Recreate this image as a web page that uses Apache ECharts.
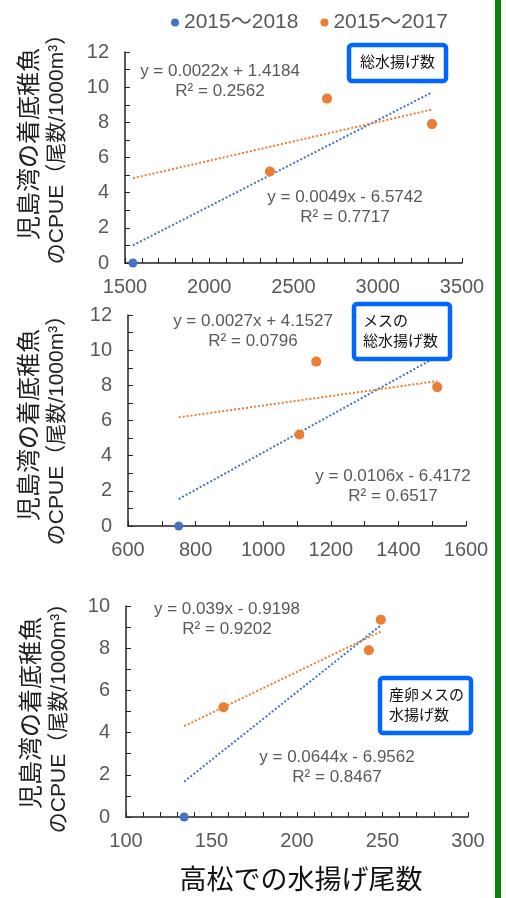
<!DOCTYPE html>
<html>
<head>
<meta charset="utf-8">
<script src="https://cdn.jsdelivr.net/npm/echarts@6/dist/echarts.min.js"></script>
<style>
  html, body { margin: 0; padding: 0; background: #fff; }
  #chart { width: 506px; height: 898px; }
</style>
</head>
<body>
<div id="chart"></div>
<script>
// x: 高松での水揚げ尾数 (3 panels), y: 児島湾のCPUE
const totalCatch = [1547, 2360, 2699, 3322];
const femaleCatch = [750, 1107, 1157, 1515];
const spawnCatch = [134, 157, 249, 242];
const cpue = [0, 5.2, 9.35, 7.9];

// [slope, intercept, R²]
const trend2018 = [[0.0049, -6.5742, 0.7717], [0.0106, -6.4172, 0.6517], [0.0644, -6.9562, 0.8467]];
const trend2017 = [[0.0022, 1.4184, 0.2562], [0.0027, 4.1527, 0.0796], [0.039, -0.9198, 0.9202]];

const panelX = [totalCatch, femaleCatch, spawnCatch];
const xMin = [1500, 600, 100];
const xMax = [3500, 1600, 300];
const xInterval = [500, 200, 50];
const xMinorSplit = [5, 2, 5];
const yMax = [12, 12, 10];
const boxText = ['総水揚げ数', 'メスの\n総水揚げ数', '産卵メスの\n水揚げ数'];

const NAME18 = '2015～2018';
const NAME17 = '2015～2017';
const BLUE = '#4472C4';
const ORANGE = '#ED7D31';
const GRAY = '#595959';
const FONT = '"Liberation Sans", "Noto Sans CJK JP", sans-serif';

const grids = [
  { left: 125, top: 52, width: 337, height: 211 },
  { left: 128, top: 315, width: 338, height: 211 },
  { left: 126, top: 606, width: 342, height: 211 }
];

// layout of the annotations
const eqPos17 = [[220, 81], [253, 331], [227, 619]];
const eqPos18 = [[345, 207], [393, 486], [337, 767]];
const boxRect = [[349, 45, 97, 36], [354, 304, 96, 55], [380, 678, 91, 55]];
const namePos = [[44, 144], [44, 425], [46, 713]];

function eqText(t) {
  const sign = t[1] < 0 ? '-' : '+';
  return 'y = ' + t[0] + 'x ' + sign + ' ' + Math.abs(t[1]) + '\nR² = ' + t[2];
}

function trendLine(xs, t) {
  const lo = Math.min(...xs), hi = Math.max(...xs);
  return [[lo, t[0] * lo + t[1]], [hi, t[0] * hi + t[1]]];
}

const axisLine = { lineStyle: { color: '#222', width: 1.5 } };

const xAxis = grids.map((g, i) => ({
  type: 'value', gridIndex: i,
  min: xMin[i], max: xMax[i], interval: xInterval[i],
  axisLine: axisLine,
  axisTick: { inside: true, length: 5, lineStyle: { color: '#222' } },
  minorTick: { show: true, splitNumber: xMinorSplit[i], length: 5, lineStyle: { color: '#222' } },
  splitLine: { show: false },
  axisLabel: { color: GRAY, fontSize: 20, margin: 14, fontFamily: FONT, formatter: v => String(v) }
}));

const yAxis = grids.map((g, i) => ({
  type: 'value', gridIndex: i,
  min: 0, max: yMax[i], interval: 2,
  axisLine: { show: true, lineStyle: { color: '#222', width: 1.5 } },
  axisTick: { show: true, inside: true, length: 5, lineStyle: { color: '#222' } },
  minorTick: { show: true, splitNumber: 2, length: 5, lineStyle: { color: '#222' } },
  splitLine: { show: false },
  axisLabel: { color: GRAY, fontSize: 20, margin: 16, fontFamily: FONT }
}));

const series = [];
panelX.forEach((xs, i) => {
  series.push({
    name: NAME18, type: 'scatter', xAxisIndex: i, yAxisIndex: i,
    symbolSize: 9, itemStyle: { color: BLUE, opacity: 1 }, z: 4,
    data: xs.map((x, k) => [x, cpue[k]])
  });
  series.push({
    name: NAME17, type: 'scatter', xAxisIndex: i, yAxisIndex: i,
    symbolSize: 10, itemStyle: { color: ORANGE, opacity: 1 }, z: 5,
    data: xs.slice(1).map((x, k) => [x, cpue[k + 1]])
  });
  series.push({
    name: NAME18, type: 'line', xAxisIndex: i, yAxisIndex: i,
    showSymbol: false, silent: true, z: 2, color: BLUE,
    lineStyle: { color: BLUE, width: 2, type: [2, 2] },
    data: trendLine(xs, trend2018[i])
  });
  series.push({
    name: NAME17, type: 'line', xAxisIndex: i, yAxisIndex: i,
    showSymbol: false, silent: true, z: 2, color: ORANGE,
    lineStyle: { color: ORANGE, width: 2, type: [2, 2] },
    data: trendLine(xs, trend2017[i])
  });
});

const graphic = [
  { type: 'rect', shape: { x: 495, y: 0, width: 6, height: 898 }, style: { fill: '#078407' } },
  {
    type: 'text', x: 301, y: 882,
    style: { text: '高松での水揚げ尾数', font: '27px ' + FONT, fill: '#111', align: 'center', verticalAlign: 'middle' }
  }
];
for (let i = 0; i < 3; i++) {
  graphic.push({
    type: 'text', x: namePos[i][0], y: namePos[i][1], rotation: Math.PI / 2,
    style: {
      text: '{a|児島湾の着底稚魚}\n{b|のCPUE（尾数/1000m³）}',
      fill: '#222', align: 'center', verticalAlign: 'middle',
      rich: {
        a: { fontSize: 24, fontFamily: FONT, fill: '#222', lineHeight: 27 },
        b: { fontSize: 21, fontFamily: FONT, fill: '#222', lineHeight: 27 }
      }
    }
  });
  graphic.push({
    type: 'text', x: eqPos17[i][0], y: eqPos17[i][1],
    style: { text: eqText(trend2017[i]), font: '17px ' + FONT, fill: GRAY, align: 'center', verticalAlign: 'middle', lineHeight: 20 }
  });
  graphic.push({
    type: 'text', x: eqPos18[i][0], y: eqPos18[i][1],
    style: { text: eqText(trend2018[i]), font: '17px ' + FONT, fill: GRAY, align: 'center', verticalAlign: 'middle', lineHeight: 20 }
  });
  const r = boxRect[i];
  graphic.push({
    type: 'rect', z: 10,
    shape: { x: r[0], y: r[1], width: r[2], height: r[3], r: 3 },
    style: { fill: '#fff', stroke: '#0066FF', lineWidth: 4.5 }
  });
  const oneLine = boxText[i].indexOf('\n') < 0;
  graphic.push({
    type: 'text', z: 11,
    x: oneLine ? r[0] + r[2] / 2 : r[0] + 9, y: r[1] + r[3] / 2,
    style: {
      text: boxText[i], font: '15px ' + FONT, fill: '#111',
      align: oneLine ? 'center' : 'left', verticalAlign: 'middle', lineHeight: 20
    }
  });
}

const chart = echarts.init(document.getElementById('chart'));
chart.setOption({
  backgroundColor: '#fff',
  animation: false,
  legend: {
    top: 7, left: 166,
    itemWidth: 8, itemHeight: 8, itemGap: 22,
    textStyle: { color: GRAY, fontSize: 21, fontFamily: FONT },
    data: [{ name: NAME18, icon: 'circle' }, { name: NAME17, icon: 'circle' }]
  },
  grid: grids,
  xAxis: xAxis,
  yAxis: yAxis,
  series: series,
  graphic: graphic
});
</script>
</body>
</html>
